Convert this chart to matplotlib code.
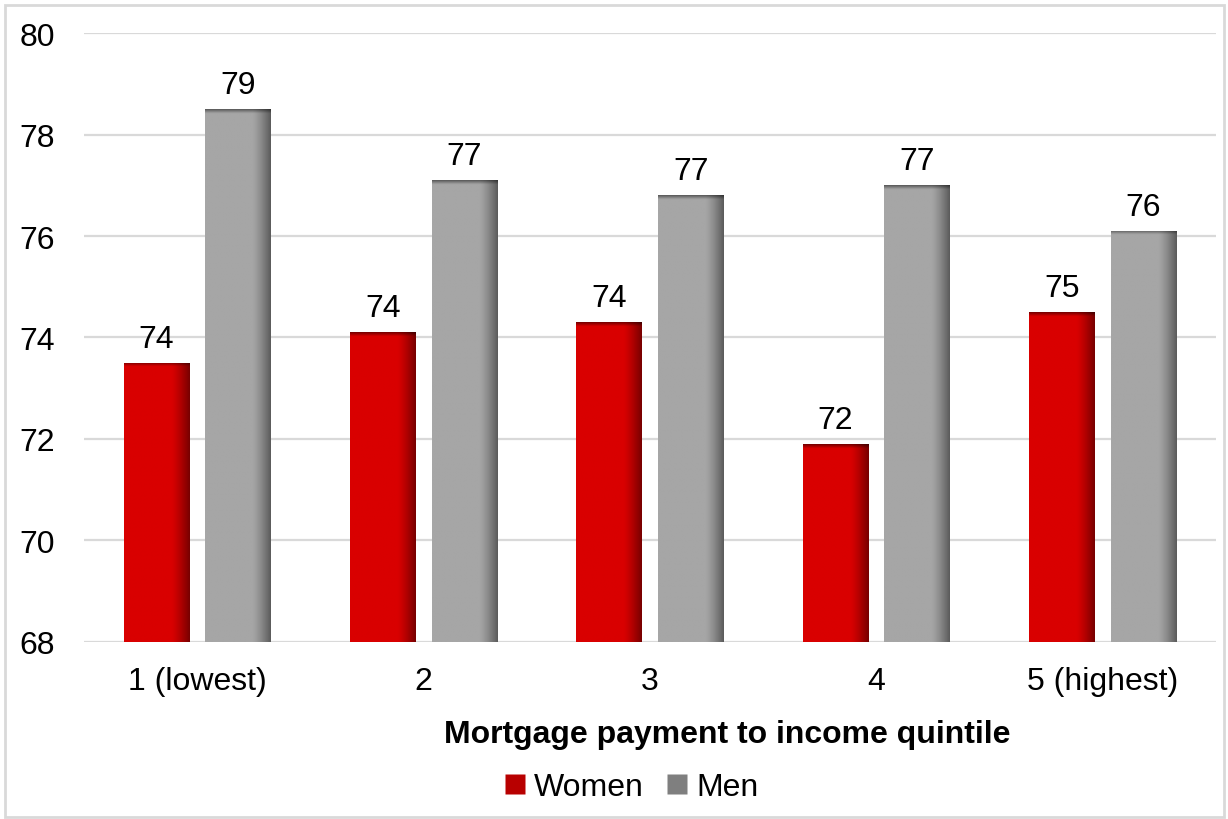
import matplotlib.pyplot as plt
import numpy as np
from matplotlib.patches import Rectangle
from matplotlib.lines import Line2D

plt.rcParams['font.family'] = ['Liberation Sans', 'DejaVu Sans']

quintiles = ['1 (lowest)', '2', '3', '4', '5 (highest)']
women = [73.5, 74.1, 74.3, 71.9, 74.5]
men = [78.5, 77.1, 76.8, 77.0, 76.1]
y_ticks = [68, 70, 72, 74, 76, 78, 80]

BASE = 68
RED = np.array([217, 0, 0]) / 255
GRAY = np.array([166, 166, 166]) / 255


def shade(ax, bar, color):
    # darken the right edge and top of each bar to give it a bevelled look
    x0, w = bar.get_x(), bar.get_width()
    top = bar.get_y() + bar.get_height()
    nx = 120
    ny = max(int((top - BASE) * 60), 8)
    fx = np.ones(nx)
    t = np.linspace(0, 1, nx)
    ramp = t > 0.72
    fx[ramp] = 1 - 0.45 * ((t[ramp] - 0.72) / 0.28) ** 1.3
    fy = np.ones(ny)
    band = 5
    fy[:band] = np.linspace(0.55, 0.95, band)
    f = fy[:, None] * fx[None, :]
    img = color[None, None, :] * f[:, :, None]
    im = ax.imshow(img, extent=(x0, x0 + w, BASE, top), aspect='auto',
                   interpolation='bilinear', zorder=3)
    im.set_clip_path(bar)


fig = plt.figure(figsize=(12.28, 8.2), dpi=100)
ax = fig.add_axes([0.0684, 0.2159, 0.9218, 0.7426])

x = np.arange(len(quintiles))
width = 0.29
off = 0.18
bars_w = ax.bar(x - off, [v - BASE for v in women], width, bottom=BASE,
                color=RED, zorder=2)
bars_m = ax.bar(x + off, [v - BASE for v in men], width, bottom=BASE,
                color=GRAY, zorder=2)

for bar in bars_w:
    shade(ax, bar, RED)
for bar in bars_m:
    shade(ax, bar, GRAY)

for xs, vals in ((x - off, women), (x + off, men)):
    for xi, v in zip(xs, vals):
        ax.text(xi, v + 0.18, str(int(v + 0.5)), ha='center', va='bottom',
                fontsize=23, color='#000000', zorder=4)

ax.set_xlim(-0.5, len(quintiles) - 0.5)
ax.set_ylim(BASE, 80)
ax.set_yticks(y_ticks)
ax.set_xticks(x)
ax.set_xticklabels(quintiles)
ax.tick_params(axis='both', length=0, labelsize=23)
ax.tick_params(axis='y', pad=21)
ax.tick_params(axis='x', pad=17)
ax.yaxis.grid(True, color='#d9d9d9', linewidth=1.6, zorder=0)
ax.set_axisbelow(True)
for s in ax.spines.values():
    s.set_visible(False)

ax.set_xlabel('Mortgage payment to income quintile', fontsize=23,
              fontweight='bold')
ax.xaxis.set_label_coords(0.568, -0.126)

handles = [Line2D([], [], marker='s', linestyle='none', markersize=14,
                  markerfacecolor='#b80000', markeredgecolor='none'),
           Line2D([], [], marker='s', linestyle='none', markersize=14,
                  markerfacecolor='#7f7f7f', markeredgecolor='none')]
fig.legend(handles, ['Women', 'Men'], loc='center', bbox_to_anchor=(0.512, 0.039),
           ncol=2, frameon=False, fontsize=23, handletextpad=0.1,
           columnspacing=0.55, handlelength=1.0)

fig.patches.append(Rectangle((0.004, 0.002), 0.993, 0.991, transform=fig.transFigure,
                             fill=False, edgecolor='#d9d9d9', linewidth=2))

fig.savefig('out.png', dpi=100)
